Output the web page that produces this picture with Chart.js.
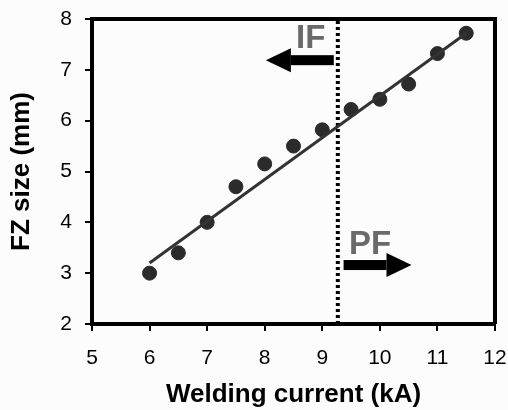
<!DOCTYPE html>
<html>
<head>
<meta charset="utf-8">
<script src="https://cdn.jsdelivr.net/npm/chart.js@4.4.1/dist/chart.umd.min.js"></script>
<style>
  html, body { margin: 0; padding: 0; background: #fcfcfc; }
  #wrap { width: 508px; height: 410px; }
</style>
</head>
<body>
<div id="wrap"><canvas id="fzchart"></canvas></div>
<script>
const current = [6, 6.5, 7, 7.5, 8, 8.5, 9, 9.5, 10, 10.5, 11, 11.5]
const fzSize = [3.0, 3.4, 4.0, 4.7, 5.15, 5.5, 5.82, 6.22, 6.42, 6.72, 7.32, 7.72]
// fitted line ends, as drawn
const fitX = [6, 11.5]
const fitY = [3.2, 7.72]
// IF / PF boundary
const boundaryX = 9.27
const xTicks = [5, 6, 7, 8, 9, 10, 11, 12]
const yTicks = [2, 3, 4, 5, 6, 7, 8]

const ink = "#000"
const dotColor = "#2b2b2b"
const labelGrey = "#6a6a6a"
const fontFam = "'Liberation Sans', Arial, sans-serif"

// arrows and labels in data units
const notes = [
  { text: "IF", tx: 8.8, ty: 7.6, x1: 9.2, x2: 8.02, y: 7.19 },
  { text: "PF", tx: 9.83, ty: 3.56, x1: 9.37, x2: 10.55, y: 3.16 }
]

const boxAndNotes = {
  id: "boxAndNotes",
  afterDatasetsDraw(chart) {
    let ctx = chart.ctx
    let a = chart.chartArea
    let xs = chart.scales.x
    let ys = chart.scales.y
    ctx.save()
    // top + right frame
    ctx.strokeStyle = ink
    ctx.lineWidth = 4
    ctx.beginPath()
    ctx.moveTo(a.left, a.top)
    ctx.lineTo(a.right, a.top)
    ctx.lineTo(a.right, a.bottom)
    ctx.stroke()
    notes.forEach(n => {
      ctx.fillStyle = labelGrey
      ctx.font = "bold 33px " + fontFam
      ctx.textAlign = "center"
      ctx.textBaseline = "middle"
      ctx.fillText(n.text, xs.getPixelForValue(n.tx), ys.getPixelForValue(n.ty))
      let p1 = xs.getPixelForValue(n.x1)
      let p2 = xs.getPixelForValue(n.x2)
      let py = ys.getPixelForValue(n.y)
      let dir = p2 > p1 ? 1 : -1
      let head = 25
      ctx.fillStyle = ink
      ctx.fillRect(Math.min(p1, p2 - dir * head), py - 5, Math.abs(p2 - dir * head - p1), 10)
      ctx.beginPath()
      ctx.moveTo(p2, py)
      ctx.lineTo(p2 - dir * head, py - 12)
      ctx.lineTo(p2 - dir * head, py + 12)
      ctx.closePath()
      ctx.fill()
    })
    ctx.restore()
  }
}

let fzchart = new Chart(document.getElementById("fzchart"), {
  type: "scatter",
  data: {
    datasets: [
      {
        data: fitX.map((v, i) => ({ x: v, y: fitY[i] })),
        showLine: true,
        borderColor: "#333",
        borderWidth: 3,
        pointRadius: 0
      },
      {
        data: [{ x: boundaryX, y: 2 }, { x: boundaryX, y: 8 }],
        showLine: true,
        borderColor: ink,
        borderWidth: 4,
        borderDash: [3, 3],
        pointRadius: 0
      },
      {
        data: current.map((v, i) => ({ x: v, y: fzSize[i] })),
        backgroundColor: dotColor,
        borderColor: dotColor,
        pointRadius: 7
      }
    ]
  },
  options: {
    animation: false,
    responsive: true,
    maintainAspectRatio: false,
    layout: { padding: { top: 19, right: 13, left: 0, bottom: 0 } },
    plugins: { legend: { display: false }, tooltip: { enabled: false } },
    scales: {
      x: {
        min: 5, max: 12,
        afterBuildTicks: s => { s.ticks = xTicks.map(v => ({ value: v })) },
        afterFit: s => { s.height = 86; s.paddingLeft = 0; s.paddingRight = 0 },
        grid: { drawOnChartArea: false, color: ink, lineWidth: 2, tickLength: 7, tickColor: ink },
        border: { color: ink, width: 4 },
        ticks: { color: ink, padding: 15, maxRotation: 0, font: { family: fontFam, size: 21 } },
        title: { display: true, text: "Welding current (kA)", color: ink, padding: { top: 2, bottom: 0 },
          font: { family: fontFam, size: 26, weight: "bold" } }
      },
      y: {
        min: 2, max: 8,
        afterBuildTicks: s => { s.ticks = yTicks.map(v => ({ value: v })) },
        afterFit: s => { s.width = 92; s.paddingTop = 0; s.paddingBottom = 0 },
        grid: { drawOnChartArea: false, color: ink, lineWidth: 2, tickLength: 7, tickColor: ink },
        border: { color: ink, width: 4 },
        ticks: { color: ink, padding: 13, font: { family: fontFam, size: 21 } },
        title: { display: true, text: "FZ size (mm)", color: ink, padding: { top: 6, bottom: 0 },
          font: { family: fontFam, size: 26, weight: "bold" } }
      }
    }
  },
  plugins: [boxAndNotes]
})
</script>
</body>
</html>
